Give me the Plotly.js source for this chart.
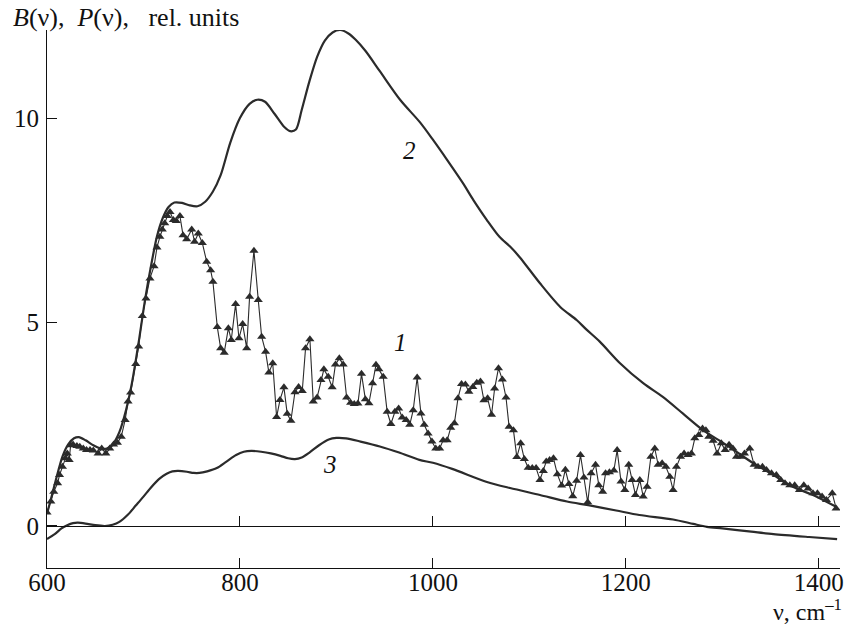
<!DOCTYPE html>
<html>
<head>
<meta charset="utf-8">
<script src="https://cdn.plot.ly/plotly-3.0.1.min.js"></script>
<style>html,body{margin:0;padding:0;background:#fff;}#chart{width:844px;height:630px;}</style>
</head>
<body>
<div id="chart"></div>
<script>
// Curve 1: measured spectrum (triangles)
const nu1 = [600,604,607,611,613,616,619,621,623,624.5,627,631,634,637.6,641,644.6,648,653,656.7,661,665,669,673,677,681,684,686.7,692,695,698.8,702.6,706.7,711,714,717,719.5,722,724.7,727.5,731,734,737.8,741,744.8,750,753,756.8,761,765.5,769.6,772,776.5,780,783.7,788,791,795.5,799,802.8,807,810,814.5,819,822.5,826.6,830,834,838,841.5,845.6,849,852.8,857,860.8,864.6,868,872.5,876,880,884,887,891.5,895.6,899,903,907,910.6,914.7,918.5,922.3,926,930,933.7,937.5,941,944,948.5,952.6,956.5,960.6,964.5,968.2,972.3,976,979.6,983.7,987.6,991,995,999,1003,1007,1010.6,1014.8,1018.5,1022.3,1026,1029.7,1033.7,1037.3,1041.4,1045.5,1049.3,1052.9,1056.7,1060.8,1064,1068,1072,1075.8,1079,1083.5,1087,1091,1094.8,1098.8,1103,1107,1111,1114.5,1117.5,1121,1125,1129,1133.5,1137.3,1141,1145,1149,1153,1156.6,1160.5,1164,1168.6,1172,1176,1179,1183,1187.6,1191,1195,1199,1203,1206.5,1210,1214.5,1218,1222,1226,1230,1233.5,1237.6,1241.5,1245.6,1249,1252.5,1256.7,1260.4,1264.5,1268,1271.5,1275.6,1279.5,1283,1286,1290.5,1294.6,1299,1303,1307,1311,1314.7,1319,1323,1328.5,1333,1337,1341.6,1345.8,1351,1356,1360.6,1365,1370,1375,1380,1384.5,1389,1394,1398.6,1403.4,1408,1414,1418];
const b1 = [0.33,0.60,0.84,1.05,1.25,1.45,1.66,1.78,1.62,1.98,2.0,1.96,1.94,1.90,1.86,1.86,1.85,1.78,1.90,1.78,1.90,2.0,2.04,2.19,2.6,3.05,3.27,3.97,4.4,5.15,5.58,6.07,6.37,6.83,7.09,7.27,7.42,7.6,7.7,7.5,7.48,7.6,7.13,7.03,7.27,6.97,7.17,6.94,6.48,6.27,5.99,4.88,4.36,4.25,4.85,4.56,5.44,4.6,4.95,4.36,5.62,6.75,5.54,4.64,4.27,3.76,3.99,2.67,3.09,3.4,2.75,2.58,3.28,3.41,3.31,4.36,4.58,3.05,3.15,3.58,3.84,3.66,3.4,3.96,4.11,3.96,3.15,3.02,2.99,3.0,3.73,3.11,3.01,3.5,3.95,3.84,3.66,2.8,2.5,2.8,2.88,2.66,2.6,2.48,2.84,3.64,2.76,2.48,2.27,2.07,1.9,1.9,2.1,2.1,2.41,2.52,3.13,3.48,3.47,3.29,3.41,3.51,3.54,3.08,3.13,2.73,3.37,3.87,3.59,3.15,2.43,2.35,1.69,2.03,1.64,1.43,1.42,1.42,1.13,1.35,1.58,1.62,1.66,1.27,0.99,1.38,1.03,0.73,1.11,1.74,1.19,0.58,1.29,1.5,1.0,0.84,1.29,1.32,1.36,1.86,1.09,0.88,1.5,1.13,0.76,1.13,0.72,0.96,1.7,1.9,1.5,1.54,1.45,1.21,0.88,1.45,1.7,1.78,1.74,1.78,2.15,2.23,2.39,2.35,2.19,2.09,1.78,2.03,1.86,1.99,1.9,1.7,1.7,1.78,1.9,1.5,1.45,1.45,1.37,1.29,1.25,1.13,1.05,1.0,1.0,0.88,1.0,0.92,0.8,0.8,0.72,0.64,0.8,0.43];

// Curve 2
const nu2 = [600,604,610,616,622,628,633,640,648,656,662,668,675,682,688,695,702,708,714,720,726,732,740,748,756,764,772,780,790,800,810,818,826,836,846,852,858,864,872,880,888,896,904,912,920,930,945,966,986.5,1000,1014,1031,1042,1056,1069,1080,1090,1111,1132,1149,1159,1173,1194,1218,1238,1259,1280,1304,1332,1353,1373,1394,1418];
const b2 = [0.3,0.65,1.2,1.7,2.0,2.15,2.18,2.1,1.98,1.9,1.9,2.0,2.3,2.85,3.5,4.5,5.6,6.4,7.1,7.55,7.82,7.93,7.92,7.86,7.84,7.95,8.2,8.6,9.4,10.0,10.35,10.45,10.4,10.1,9.78,9.68,9.72,10.2,10.9,11.5,11.9,12.1,12.16,12.08,11.92,11.65,11.15,10.45,9.9,9.47,9.0,8.41,7.99,7.5,7.09,6.85,6.59,5.95,5.37,5.05,4.82,4.52,3.99,3.5,3.17,2.76,2.35,1.99,1.54,1.25,0.96,0.76,0.47];

// Curve 3
const nu3 = [600,608,615,621,627,632,640,650,660,668,675,684,692,700,708,716,724,730,736,745,752,758,766,776,786,796,804,812,822,832,842,850,857,864,872,882,892,900,910,925,945,965,986,1000,1020,1056,1080,1111,1139,1161,1190,1214,1249,1270,1284,1300,1330,1353,1390,1419];
const b3 = [-0.32,-0.2,-0.06,0.02,0.07,0.08,0.06,0.02,0.0,0.03,0.1,0.28,0.5,0.72,0.95,1.15,1.28,1.34,1.35,1.33,1.3,1.3,1.34,1.42,1.58,1.74,1.82,1.84,1.82,1.78,1.72,1.66,1.64,1.68,1.8,1.98,2.12,2.16,2.15,2.07,1.95,1.8,1.62,1.55,1.4,1.08,0.93,0.76,0.6,0.51,0.38,0.27,0.16,0.05,-0.02,-0.06,-0.14,-0.2,-0.27,-0.32];

const xTicks = [600,800,1000,1200,1400];
const xTickText = ['600','800','1000','1200','1400'];
const yTicks = [0,5,10];
const yTickText = ['0','5','10'];
const curveLabels = ['1','2','3'];
const labelNu = [966,976,893];
const labelVal = [4.5,9.2,1.5];

const ink = '#2b2b2b';
const xMin = 600, xMax = 1422, yMin = -1.03, yMax = 12.16;
const serif = '"Liberation Serif", "Times New Roman", serif';

const traces = [
  {x: nu2, y: b2, mode:'lines', line:{color:ink, width:2.2, shape:'spline', smoothing:0.8}, cliponaxis:false, hoverinfo:'skip'},
  {x: nu3, y: b3, xaxis:'x2', mode:'lines', line:{color:ink, width:2.2, shape:'spline', smoothing:0.8}, hoverinfo:'skip'},
  {x: nu1, y: b1, mode:'lines+markers', line:{color:ink, width:1.1}, marker:{symbol:'triangle-up', size:8, color:ink}, hoverinfo:'skip'}
];

const annotations = curveLabels.map((t,i)=>({
  x: labelNu[i], y: labelVal[i], xref:'x', yref:'y', text:'<i>'+t+'</i>', showarrow:false,
  font:{family:serif, size:25, color:'#111'}
}));
annotations.push({
  xref:'paper', yref:'paper', x:-0.046, y:0.993, yanchor:'bottom', xanchor:'left',
  text:'<i>B</i>(ν),&nbsp;&nbsp;<i>P</i>(ν),&nbsp;&nbsp;&nbsp;rel. units', showarrow:false,
  font:{family:serif, size:26, color:'#111'}
});
annotations.push({
  xref:'paper', yref:'paper', x:1.005, y:-0.11, xanchor:'right', yanchor:'bottom',
  text:'ν, cm<sup>–1</sup>', showarrow:false,
  font:{family:serif, size:24, color:'#111'}
});

const axisCommon = {showgrid:false, zeroline:false, showline:true, linecolor:'#111', linewidth:1,
  ticks:'inside', ticklen:10, tickwidth:1, tickcolor:'#111'};

const layout = {
  width:844, height:630,
  margin:{l:47, r:4, t:30, b:62},
  paper_bgcolor:'#fff', plot_bgcolor:'#fff',
  showlegend:false,
  font:{family:serif, size:25, color:'#111'},
  xaxis: Object.assign({}, axisCommon, {range:[xMin,xMax], tickmode:'array', tickvals:xTicks, ticktext:xTickText, ticklabelstandoff:-8}),
  xaxis2: Object.assign({}, axisCommon, {range:[xMin,xMax], overlaying:'x', anchor:'free', side:'bottom',
    position: -yMin/(yMax-yMin), tickmode:'array', tickvals:xTicks, showticklabels:false}),
  yaxis: Object.assign({}, axisCommon, {range:[yMin,yMax], tickmode:'array', tickvals:yTicks, ticktext:yTickText, ticklabelstandoff:2}),
  annotations: annotations
};

Plotly.newPlot('chart', traces, layout, {displayModeBar:false, staticPlot:true});
</script>
</body>
</html>
